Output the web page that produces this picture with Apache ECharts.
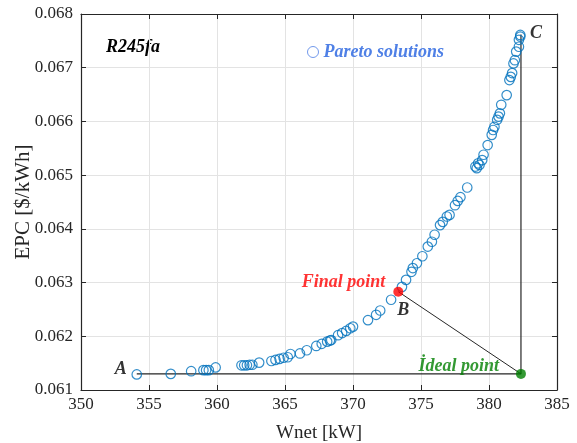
<!DOCTYPE html>
<html>
<head>
<meta charset="utf-8">
<script src="https://cdn.jsdelivr.net/npm/echarts@6/dist/echarts.min.js"></script>
<style>html,body{margin:0;padding:0;background:#fff}#c{width:577px;height:443px}</style>
</head>
<body>
<div id="c"></div>
<script>
// Pareto front: Wnet [kW]
const wnet = [354.1,356.6,358.1,359.0,359.2,359.4,359.9,361.8,362.0,362.2,362.4,362.6,363.1,
  364.0,364.3,364.6,364.9,365.2,365.4,366.1,366.6,367.3,367.7,368.1,368.3,368.4,368.9,369.2,369.5,369.8,370.0,
  371.1,371.7,372.0,372.8,373.6,373.9,374.3,374.4,374.7,375.1,375.5,375.8,376.0,376.4,376.6,376.9,377.1,
  377.5,377.7,377.9,378.4,379.0,379.1,379.2,379.3,379.5,379.6,379.9,380.2,380.3,380.4,380.6,380.7,380.8,380.9,
  381.3,381.5,381.6,381.7,381.8,381.9,382.0,382.2,382.2,382.3,382.3];
// Pareto front: EPC [$/kWh]
const epc = [0.06129,0.06130,0.06135,0.06137,0.06137,0.06137,0.06142,0.06146,0.06146,0.06146,0.06147,0.06147,0.06151,
  0.06154,0.06156,0.06158,0.06160,0.06161,0.06167,0.06168,0.06174,0.06182,0.06186,0.06190,0.06192,0.06193,0.06202,0.06206,0.06210,0.06215,0.06218,
  0.06230,0.06240,0.06248,0.06268,0.06292,0.06305,0.06320,0.06327,0.06336,0.06349,0.06367,0.06376,0.06389,0.06407,0.06413,0.06423,0.06426,
  0.06444,0.06452,0.06459,0.06477,0.06516,0.06513,0.06522,0.06519,0.06528,0.06538,0.06556,0.06575,0.06584,0.06590,0.06603,0.06609,0.06615,0.06631,
  0.06649,0.06677,0.06683,0.06690,0.06708,0.06714,0.06730,0.06739,0.06752,0.06758,0.06761];
const pointA = [354.1, 0.06130];
const pointC = [382.35, 0.06762];
const finalPoint = [373.33, 0.06283];
const idealPoint = [382.35, 0.06130];
const xTicks = [350,355,360,365,370,375,380,385];
const yTicks = [0.061,0.062,0.063,0.064,0.065,0.066,0.067,0.068];

const serif = '"Liberation Serif","Times New Roman",serif';
const chart = echarts.init(document.getElementById('c'), null, {renderer:'canvas'});
const axisCommon = {
  axisLine:{show:true,lineStyle:{color:'#262626',width:1.2}},
  axisTick:{show:true,inside:true,length:5,lineStyle:{color:'#262626'}},
};
const annot = {fontFamily:serif,fontStyle:'italic',fontWeight:'bold',fontSize:18};
chart.setOption({
  animation:false,
  grid:{left:81,right:20,top:14,bottom:53,containLabel:false,outerBoundsMode:'none'},
  legend:{
    data:['Pareto solutions'],
    left:302, top:38, itemWidth:11, itemHeight:11, itemGap:2,
    textStyle:{fontFamily:serif,fontStyle:'italic',fontWeight:'bold',fontSize:18,color:'#4F80E6'},
    itemStyle:{color:'#fff',borderColor:'#4F80E6',borderWidth:1}
  },
  graphic:[{type:'text',left:106,top:38,style:{text:'R245fa',font:'italic bold 18px '+serif,fill:'#000'}}],
  xAxis:[
    Object.assign({type:'value',min:xTicks[0],max:xTicks[xTicks.length-1],interval:5,position:'bottom',
      name:'Wnet [kW]',nameLocation:'middle',nameGap:34,nameMoveOverlap:false,
      nameTextStyle:{fontFamily:serif,fontSize:19,color:'#262626'},
      axisLabel:{fontFamily:serif,fontSize:17,color:'#262626',margin:6},
      splitLine:{show:true,lineStyle:{color:'#e3e3e3'}}},axisCommon),
    Object.assign({type:'value',min:xTicks[0],max:xTicks[xTicks.length-1],interval:5,position:'top',
      axisLabel:{show:false},splitLine:{show:false}},axisCommon)
  ],
  yAxis:[
    Object.assign({type:'value',min:yTicks[0],max:yTicks[yTicks.length-1],interval:0.001,position:'left',
      name:'EPC [$/kWh]',nameLocation:'middle',nameGap:47,nameMoveOverlap:false,
      nameTextStyle:{fontFamily:serif,fontSize:21,color:'#262626'},
      axisLabel:{fontFamily:serif,fontSize:17,color:'#262626',margin:8,formatter:v=>v.toFixed(3)},
      splitLine:{show:true,lineStyle:{color:'#e3e3e3'}}},axisCommon),
    Object.assign({type:'value',min:yTicks[0],max:yTicks[yTicks.length-1],interval:0.001,position:'right',
      axisLabel:{show:false},splitLine:{show:false}},axisCommon)
  ],
  series:[
    {type:'line',data:[pointA,idealPoint,pointC],symbol:'none',lineStyle:{color:'#262626',width:1.2},z:1,silent:true},
    {type:'line',data:[finalPoint,idealPoint],symbol:'none',lineStyle:{color:'#262626',width:1},z:1,silent:true},
    {name:'Pareto solutions',type:'scatter',data:wnet.map((x,i)=>[x,epc[i]]),symbol:'circle',symbolSize:9.5,
      itemStyle:{color:'rgba(255,255,255,0)',borderColor:'#0072BD',borderWidth:1.2},z:2},
    {type:'scatter',data:[finalPoint],symbolSize:10,itemStyle:{color:'#FF0000'},z:3,
      label:Object.assign({show:true,position:'left',distance:8,offset:[0,-9],formatter:'Final point',color:'#FF0000'},annot)},
    {type:'scatter',data:[finalPoint],symbolSize:0,z:3,
      label:Object.assign({show:true,position:'bottom',distance:10,offset:[5,0],formatter:'B',color:'#000'},annot)},
    {type:'scatter',data:[idealPoint],symbolSize:10,itemStyle:{color:'#008000'},z:3,
      label:Object.assign({show:true,position:'left',distance:17,offset:[0,-8],formatter:'İdeal point',color:'#008000'},annot)},
    {type:'scatter',data:[pointA],symbolSize:0,z:3,
      label:Object.assign({show:true,position:'left',distance:10,offset:[0,-5],formatter:'A',color:'#000'},annot)},
    {type:'scatter',data:[pointC],symbolSize:0,z:3,
      label:Object.assign({show:true,position:'right',distance:9,offset:[0,-1],formatter:'C',color:'#000'},annot)}
  ]
});
</script>
</body>
</html>
